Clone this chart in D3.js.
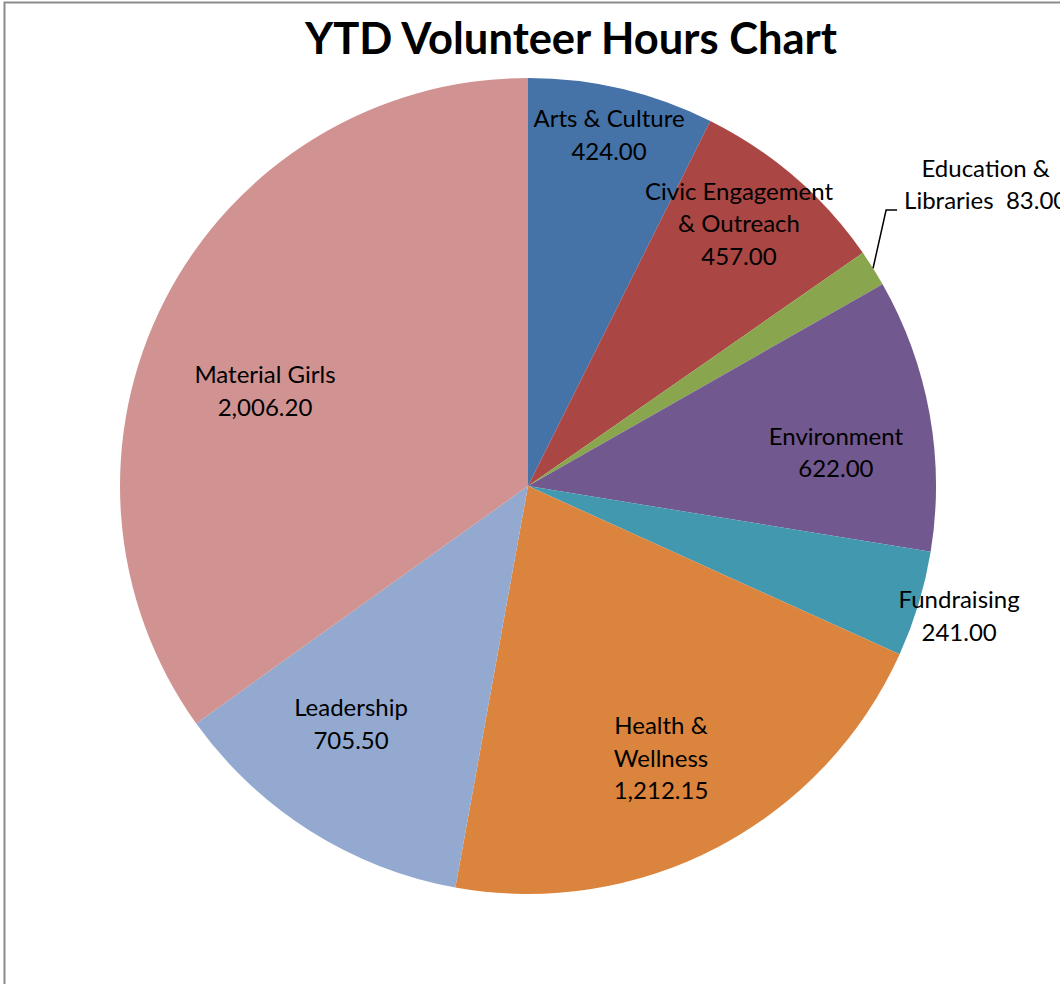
<!DOCTYPE html>
<html><head><meta charset="utf-8">
<script src="https://cdn.jsdelivr.net/npm/d3@7"></script>
<style>html,body{margin:0;padding:0;background:#fff;}svg{display:block;}</style>
</head><body>
<svg id="chart" width="1060" height="984"></svg>
<script>
// ---- data ----
const categories = ["Arts & Culture","Civic Engagement & Outreach","Education & Libraries","Environment","Fundraising","Health & Wellness","Leadership","Material Girls"];
const hours = [424.00, 457.00, 83.00, 622.00, 241.00, 1212.15, 705.50, 2006.20];
const labelLines = [
  ["Arts & Culture"],
  ["Civic Engagement","& Outreach"],
  ["Education &","Libraries  "],
  ["Environment"],
  ["Fundraising"],
  ["Health &","Wellness"],
  ["Leadership"],
  ["Material Girls"]
];
const colors = ["#4572A7","#AA4643","#89A54E","#71588F","#4198AF","#DB843D","#93A9CF","#D19392"];
const title = "YTD Volunteer Hours Chart";

// ---- layout config ----
const cx = 528, cy = 486, R = 408;
const labelRadiusFrac = [0.882, 0.824, 1.343, 0.759, 1.104, 0.744, 0.728, 0.685];
const labelAngleShift = [-0.26, -1.97, -1.1, 4.06, 0.02, 1.7, 4.24, -7.44];
const lineH = 32.5;
const fontFam = "Lato, 'Noto Sans', sans-serif";

const svg = d3.select("#chart");
// frame
svg.append("rect").attr("x",4.5).attr("y",2.5).attr("width",1100).attr("height",1100)
  .attr("fill","none").attr("stroke","#8c8c8c").attr("stroke-width",2);

svg.append("text").attr("x",571).attr("y",54).attr("text-anchor","middle")
  .attr("font-family",fontFam).attr("font-weight","bold").attr("font-size",43.5)
  .attr("fill","#000").text(title);

const data = categories.map((c,i)=>({cat:c, value:hours[i], i}));
const pie = d3.pie().value(d=>d.value).sort(null);
const arcs = pie(data);
const arc = d3.arc().innerRadius(0).outerRadius(R);

const g = svg.append("g").attr("transform",`translate(${cx},${cy})`);
g.selectAll("path.slice").data(arcs).join("path").attr("class","slice")
  .attr("d",arc).attr("fill",d=>colors[d.data.i]);

const fmt = d3.format(",.2f");
const toRad = Math.PI/180;

arcs.forEach(d=>{
  const i = d.data.i;
  const mid = (d.startAngle+d.endAngle)/2 + labelAngleShift[i]*toRad;
  const r = labelRadiusFrac[i]*R;
  const lx = Math.sin(mid)*r, ly = -Math.cos(mid)*r;
  let lines = labelLines[i].slice();
  const val = fmt(d.data.value);
  if (lines[lines.length-1].endsWith("  ")) lines[lines.length-1] = lines[lines.length-1] + val;
  else lines.push(val);
  const n = lines.length;
  const t = g.append("text").attr("font-family",fontFam).attr("font-size",24)
    .attr("fill","#000").attr("text-anchor","middle").attr("xml:space","preserve");
  lines.forEach((ln,k)=>{
    t.append("tspan").attr("x",lx).attr("y", ly + (k-(n-1)/2)*lineH + 8).text(ln);
  });
  if (labelRadiusFrac[i] > 1.2) {
    // leader line from slice edge to label
    const bb = t.node().getBBox();
    const m0 = (d.startAngle+d.endAngle)/2;
    const sx = Math.sin(m0)*R, sy = -Math.cos(m0)*R;
    const ey = ly + ((n-1)/2)*lineH + 9;
    const ex = bb.x - 7;
    g.append("path").attr("d",`M${sx},${sy}L${ex-11},${ey}L${ex},${ey}`)
      .attr("fill","none").attr("stroke","#000").attr("stroke-width",1.5);
  }
});
</script>
</body></html>
